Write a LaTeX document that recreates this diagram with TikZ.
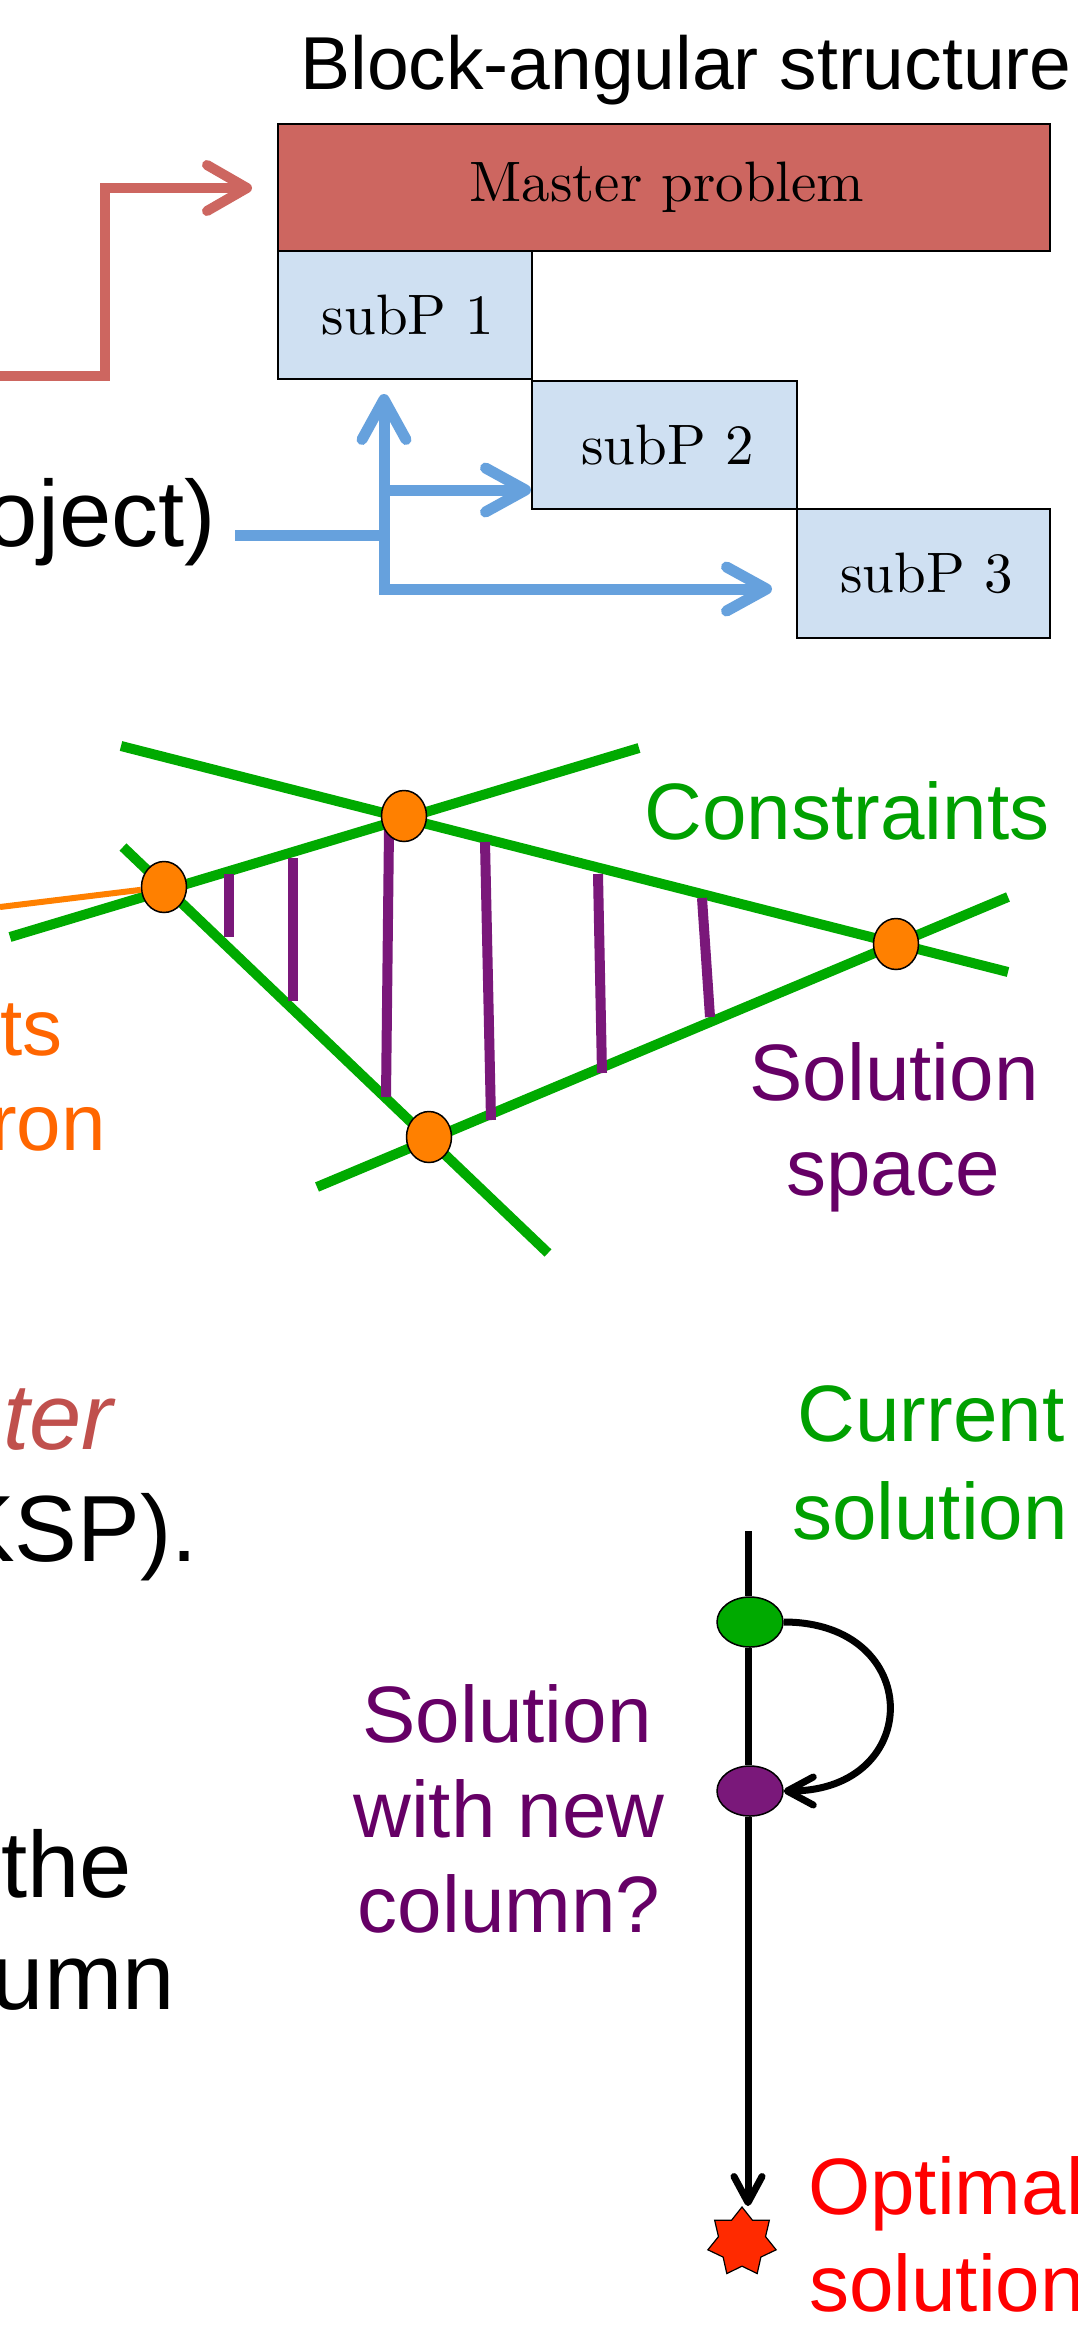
\documentclass[tikz,border=0pt]{standalone}
\usepackage{fontspec}
\newfontfamily\arial{Liberation Sans}
\newfontfamily\lmten{lmroman10-regular.otf}
\usetikzlibrary{arrows.meta,shapes.geometric}
\definecolor{mred}{RGB}{205,102,96}
\definecolor{sblue}{RGB}{207,224,242}
\definecolor{ablue}{RGB}{102,161,221}
\definecolor{cgreen}{RGB}{0,170,0}
\definecolor{tgreen}{RGB}{0,160,0}
\definecolor{vorange}{RGB}{255,128,0}
\definecolor{torange}{RGB}{255,102,0}
\definecolor{bpurple}{RGB}{122,24,122}
\definecolor{tpurple}{RGB}{102,0,102}
\definecolor{itred}{RGB}{192,80,77}
\definecolor{starred}{RGB}{255,42,0}
\begin{document}
\begin{tikzpicture}[x=1pt,y=-1pt,
  blk/.style={draw=black,line width=2pt,inner sep=0pt,anchor=north west},
  blktxt/.style={font=\lmten\fontsize{57}{68}\selectfont},
  txtA/.style={inner sep=0pt,font=\arial\fontsize{80}{96}\selectfont},
  txtB/.style={inner sep=0pt,font=\arial\fontsize{94}{112}\selectfont},
  redarr/.style={draw=mred,line width=10pt,-{Straight Barb[length=40pt,width=46pt,round]}},
  bluearr/.style={draw=ablue,line width=11pt,-{Straight Barb[length=40pt,width=44pt,round]}},
  blueline/.style={draw=ablue,line width=11pt},
  gline/.style={draw=cgreen,line width=10pt},
  pbar/.style={draw=bpurple,line width=10pt},
  vert/.style={ellipse,draw=black,line width=1.5pt,fill=vorange,minimum width=45pt,minimum height=51pt,inner sep=0pt},
  soldot/.style={ellipse,draw=black,line width=1.5pt,minimum width=66pt,minimum height=50pt,inner sep=0pt},
  blkarr/.style={draw=black,line width=7pt,-{Straight Barb[length=26pt,width=28pt,round]}},
  blkline/.style={draw=black,line width=7pt}
]
\path[use as bounding box,fill=white] (0,0) rectangle (1078,2325);
\clip (0,0) rectangle (1078,2325);

% ---------- top: block-angular structure ----------
\node[inner sep=0pt,font=\arial\fontsize{75}{90}\selectfont,anchor=base] (title) at (686,90) {Block-angular structure};
\node[blk,fill=mred,minimum width=772pt,minimum height=127pt] (master) at (277,123) {};
\node[blktxt] (mastertxt) at ([xshift=3pt]master.center) {Master problem};
\node[blk,fill=sblue,minimum width=254pt,minimum height=128pt] (sub1) at (277,250) {};
\node[blktxt] (sub1txt) at ([xshift=3pt]sub1.center) {subP 1};
\node[blk,fill=sblue,minimum width=265pt,minimum height=128pt] (sub2) at (531,380) {};
\node[blktxt] (sub2txt) at ([xshift=3pt]sub2.center) {subP 2};
\node[blk,fill=sblue,minimum width=253pt,minimum height=129pt] (sub3) at (796,508) {};
\node[blktxt] (sub3txt) at ([xshift=3pt]sub3.center) {subP 3};

\coordinate (rstart) at (0,376);
\coordinate (rtip) at (252,188);
\draw[redarr] (rstart) -- ++(105,0) |- (rtip);

\node[txtB,anchor=base east] (obj) at (216,546) {oject)};
\coordinate (bstart) at (235,535);
\coordinate (bjoin) at (386,535);
\draw[blueline] (bstart) -- (bjoin);
\coordinate (bbot) at (384,594);
\coordinate (btip1) at (384,394);
\draw[bluearr] (bbot) -- (btip1);
\coordinate (bmid) at (384,490);
\draw[bluearr] (bmid) -- (bmid -| sub2.west);
\coordinate (blow) at (379,589);
\coordinate (btip3) at (772,589);
\draw[bluearr] (blow) -- (btip3);

% ---------- middle: polyhedron ----------
\coordinate (L) at (164,887);
\coordinate (T) at (404,816);
\coordinate (R) at (896,944);
\coordinate (B) at (429,1137);
\coordinate (g1a) at (121,746);
\coordinate (g1b) at (1008,972);
\coordinate (g2a) at (10,937);
\coordinate (g2b) at (639,748);
\coordinate (g3a) at (123,847);
\coordinate (g3b) at (548,1253);
\coordinate (g4a) at (317,1187);
\coordinate (g4b) at (1008,897);
\draw[gline] (g1a) -- (g1b);
\draw[gline] (g2a) -- (g2b);
\draw[gline] (g3a) -- (g3b);
\draw[gline] (g4a) -- (g4b);

\draw[pbar] (229,874) -- (229,937);
\draw[pbar] (293,858) -- (293,1001);
\draw[pbar] (389,829) -- (386,1097);
\draw[pbar] (485,842) -- (491,1120);
\draw[pbar] (598,874) -- (602,1073);
\draw[pbar] (702,898) -- (710,1017);

\node[vert] (vL) at (L) {};
\node[vert] (vT) at (T) {};
\node[vert] (vR) at (R) {};
\node[vert] (vB) at (B) {};
\coordinate (ostart) at (0,907);
\draw[draw=vorange,line width=6pt] (ostart) -- (vL);

\node[txtA,text=tgreen,anchor=base] (cons) at (847,839) {Constraints};
\node[txtA,text=tpurple,anchor=base] (ss1) at (894,1100) {Solution};
\node[txtA,text=tpurple,anchor=base] (ss2) at (893,1195) {space};
\node[txtA,text=torange,anchor=base east] (ep1) at (63,1055) {ts};
\node[txtA,text=torange,anchor=base east] (ep2) at (106,1150) {ron};

% ---------- bottom: column generation ----------
\node[txtB,text=itred,font=\arial\itshape\fontsize{94}{112}\selectfont,anchor=base east] (ter) at (113,1449) {ter};
\node[txtB,anchor=base east] (ksp) at (198,1561) {KSP).};
\node[txtB,anchor=base east] (the) at (132,1897) {the};
\node[txtB,anchor=base east] (umn) at (175,2009) {umn};

\node[txtA,text=tgreen,anchor=base] (cur1) at (931,1441) {Current};
\node[txtA,text=tgreen,anchor=base] (cur2) at (930,1539) {solution};
\node[txtA,text=tpurple,anchor=base] (nw1) at (507,1742) {Solution};
\node[txtA,text=tpurple,anchor=base] (nw2) at (509,1837) {with new};
\node[txtA,text=tpurple,anchor=base] (nw3) at (509,1932) {column?};
\node[txtA,text=red,anchor=base west] (op1) at (808,2214) {Optimal};
\node[txtA,text=red,anchor=base west] (op2) at (809,2311) {solution};

\coordinate (ltop) at (748,1531);
\node[soldot,fill=cgreen] (cur) at (750,1622) {};
\node[soldot,fill=bpurple] (newsol) at (750,1791) {};
\node[star,star points=7,star point ratio=1.45,minimum size=70pt,inner sep=0pt,draw=black,line width=1.2pt,fill=starred] (opt) at (742,2242) {};
\draw[blkline] (ltop) -- (ltop |- cur.north);
\draw[blkline] (cur.south -| ltop) -- (newsol.north -| ltop);
\draw[blkarr] (newsol.south -| ltop) -- (opt.north -| ltop);
\draw[blkarr] (cur.east) .. controls +(141,0) and +(141,0) .. (newsol.east);
\end{tikzpicture}
\end{document}
